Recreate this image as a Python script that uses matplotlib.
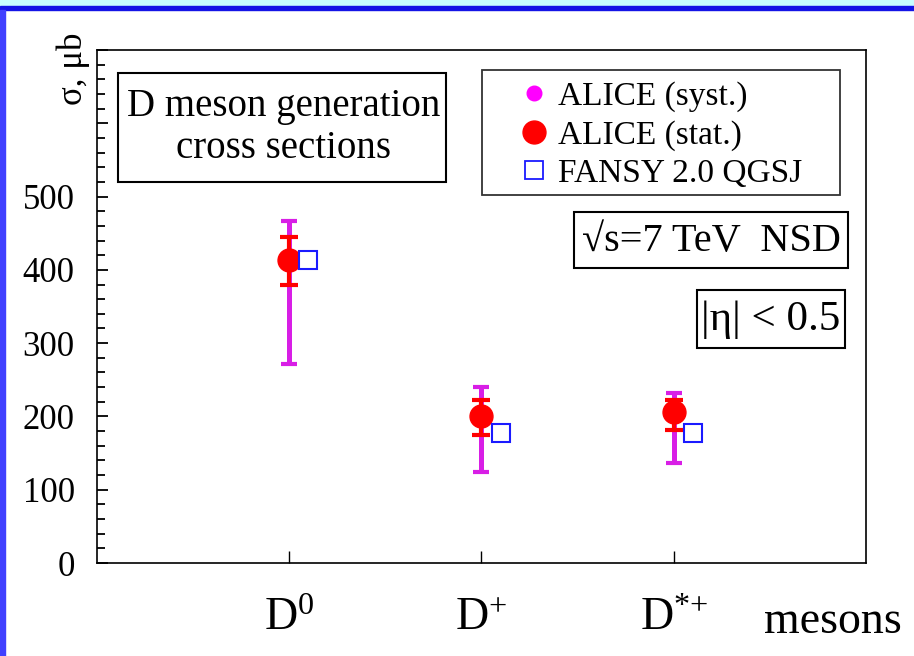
import numpy as np
import matplotlib
matplotlib.use("Agg")
import matplotlib.pyplot as plt
from matplotlib.lines import Line2D
from matplotlib.patches import Rectangle
from matplotlib.ticker import MultipleLocator

plt.rcParams["font.family"] = ["Liberation Serif", "DejaVu Serif"]
plt.rcParams["mathtext.fontset"] = "custom"
plt.rcParams["mathtext.rm"] = "Liberation Serif"
plt.rcParams["mathtext.it"] = "Liberation Serif:italic"

# === Data: D meson cross sections, microbarn ===
mesons = [r"$\mathrm{D}^{0}$", r"$\mathrm{D}^{+}$", r"$\mathrm{D}^{{*}{+}}$"]
alice = [413, 200, 206]
stat_lo = [34, 25, 25]
stat_hi = [32, 23, 16]
syst_lo = [141, 76, 70]
syst_hi = [53, 40, 26]
fansy = [414, 178, 178]

W, H = 914, 656


def fx(x):
    return x / W


def fy(y):
    return 1 - y / H


def box(x0, y0, x1, y1, ec="black", lw=1.5):
    fig.patches.append(Rectangle((fx(x0), fy(y1)), fx(x1 - x0), (y1 - y0) / H,
                                 transform=fig.transFigure, fill=False,
                                 ec=ec, lw=lw, zorder=5))


fig = plt.figure(figsize=(W / 100, H / 100), dpi=100)

# slide frame: cyan band, blue rule on top, blue strip on the left
fig.patches.append(Rectangle((0, fy(6)), 1, 6 / H, transform=fig.transFigure,
                             color="#c8ffff", zorder=0))
fig.patches.append(Rectangle((0, fy(9.5)), 1, 3.5 / H, transform=fig.transFigure,
                             color="#1414e6", zorder=0))
fig.patches.append(Rectangle((0, 0), fx(5), fy(9.5), transform=fig.transFigure,
                             color="#4040ff", zorder=0))

ax = fig.add_axes([fx(97), fy(563), fx(866 - 97), (563 - 50) / H])
x = np.arange(1, len(mesons) + 1)

# === Error bars and points ===
ax.errorbar(x, alice, yerr=[syst_lo, syst_hi], fmt="none", ecolor="#d81ee6",
            elinewidth=3.6, capsize=6, capthick=3, zorder=2)
ax.errorbar(x, alice, yerr=[stat_lo, stat_hi], fmt="o", color="red",
            ms=16.5, elinewidth=3, capsize=6.5, capthick=3, zorder=3)
ax.plot(x + 0.1, fansy, "s", mfc="white", mec="#1a1aff", ms=13.5, mew=1.5,
        zorder=4)

# === Axes ===
ax.set_xlim(0, 4)
ax.set_ylim(0, 700)
yt = np.arange(0, 701, 100)
ax.set_yticks(yt, [str(v) if v <= 500 else "" for v in yt])
ax.yaxis.set_minor_locator(MultipleLocator(20))
ax.set_xticks(x, mesons)
ax.tick_params(axis="y", which="major", direction="in", length=8, width=1.3,
               labelsize=25, pad=16)
ax.tick_params(axis="y", which="minor", direction="in", length=5.5, width=1.3)
ax.tick_params(axis="x", direction="in", length=9, width=1, labelsize=33, pad=25)
for s in ax.spines.values():
    s.set_linewidth(1.2)

fig.text(fx(833), fy(633), "mesons", fontsize=33, ha="center", va="baseline")
fig.text(fx(73), fy(69), "σ, μb", fontsize=25, rotation=90, ha="center",
         va="center")

# === Title box ===
box(118, 73, 446, 182)
fig.text(fx(284), fy(116), "D meson generation", fontsize=28, ha="center",
         va="baseline")
fig.text(fx(284), fy(158), "cross sections", fontsize=28, ha="center",
         va="baseline")

# === Legend ===
box(482, 70, 840, 195, ec="#333333", lw=1.3)
handles = [
    Line2D([], [], ls="none", marker="o", color="#ff00ff", ms=10.5),
    Line2D([], [], ls="none", marker="o", color="red", ms=16.5),
    Line2D([], [], ls="none", marker="s", mfc="white", mec="#1a1aff", ms=13,
           mew=1.3),
]
labels = ["ALICE (syst.)", "ALICE (stat.)", "FANSY 2.0 QGSJ"]
ax.legend(handles, labels, loc="upper left", frameon=False, fontsize=24,
          bbox_to_anchor=(fx(517), fy(81)), bbox_transform=fig.transFigure,
          borderpad=0, borderaxespad=0, handlelength=1.0, handletextpad=0.22,
          labelspacing=0.24)

# === Condition boxes ===
box(574, 212, 848, 268)
fig.text(fx(711), fy(241), "√s=7 TeV  NSD", fontsize=29, ha="center",
         va="center")
box(697, 290, 845, 348)
fig.text(fx(771), fy(320), "|η| < 0.5", fontsize=31, ha="center", va="center")

fig.savefig("out.png", dpi=100)
